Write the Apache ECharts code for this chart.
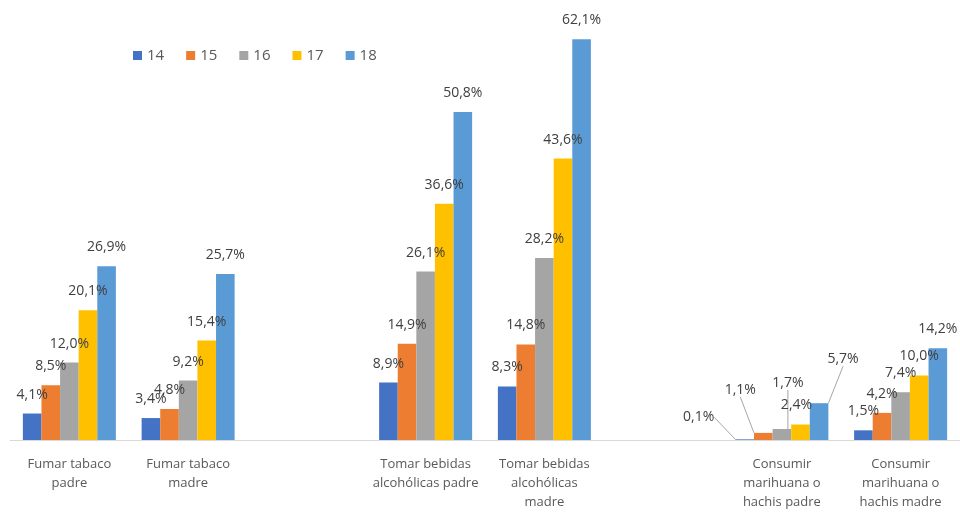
<!DOCTYPE html>
<html>
<head>
<meta charset="utf-8">
<script src="https://cdn.jsdelivr.net/npm/echarts@6/dist/echarts.min.js"></script>
<style>
  html, body { margin: 0; padding: 0; background: #fff; }
  #main { width: 960px; height: 512px; }
</style>
</head>
<body>
<div id="main"></div>
<script>
// categorias (las vacias dejan el hueco entre grupos)
var categories = [
  'Fumar tabaco\npadre',
  'Fumar tabaco\nmadre',
  '',
  'Tomar bebidas\nalcohólicas padre',
  'Tomar bebidas\nalcohólicas\nmadre',
  '',
  'Consumir\nmarihuana o\nhachis padre',
  'Consumir\nmarihuana o\nhachis madre'
];
var ages = ['14', '15', '16', '17', '18'];

var edad14 = [4.1, 3.4, null, 8.9, 8.3, null, 0.1, 1.5];
var edad15 = [8.5, 4.8, null, 14.9, 14.8, null, 1.1, 4.2];
var edad16 = [12.0, 9.2, null, 26.1, 28.2, null, 1.7, 7.4];
var edad17 = [20.1, 15.4, null, 36.6, 43.6, null, 2.4, 10.0];
var edad18 = [26.9, 25.7, null, 50.8, 62.1, null, 5.7, 14.2];

var seriesData = [edad14, edad15, edad16, edad17, edad18];
var colors = ['#4472C4', '#ED7D31', '#A5A5A5', '#FFC000', '#5B9BD5'];

// etiquetas desplazadas (con linea guia) en marihuana padre
var labelShifts = {
  '0-6': { dx: -46, dy: -3, line: true },
  '1-6': { dx: -23, dy: -24, line: true },
  '2-6': { dx: 6, dy: -27, line: true },
  '3-6': { dx: -4, dy: 0, line: false },
  '4-6': { dx: 24, dy: -25, line: true }
};

function fmt(p) {
  return p.value.toFixed(1).replace('.', ',') + '%';
}

var chart = echarts.init(document.getElementById('main'));

var series = seriesData.map(function (d, i) {
  var items = d.map(function (v, j) {
    var s = labelShifts[i + '-' + j];
    if (s && s.line) {
      return { value: v, labelLine: { show: true } };
    }
    return v;
  });
  return {
    name: ages[i],
    type: 'bar',
    data: items,
    barWidth: 18.6,
    barGap: '0%',
    itemStyle: { color: colors[i] },
    label: {
      show: true,
      position: 'top',
      distance: 12,
      formatter: fmt,
      color: '#404040',
      fontSize: 14,
      fontFamily: 'Open Sans'
    },
    labelLine: {
      show: false,
      lineStyle: { color: '#A6A6A6', width: 1 }
    },
    labelLayout: function (params) {
      var s = labelShifts[params.seriesIndex + '-' + params.dataIndex];
      return s ? { dx: s.dx, dy: s.dy } : {};
    }
  };
});

chart.setOption({
  animation: false,
  legend: {
    left: 128,
    top: 43,
    itemWidth: 9,
    itemHeight: 9,
    itemGap: 22,
    icon: 'rect',
    textStyle: { color: '#595959', fontSize: 15, fontFamily: 'Open Sans' },
    data: ages
  },
  grid: { left: 10, right: 0, top: 14, bottom: 70 },
  xAxis: {
    type: 'category',
    data: categories,
    axisTick: { show: false },
    axisLine: { lineStyle: { color: '#D9D9D9' } },
    axisLabel: {
      interval: 0,
      margin: 15,
      color: '#595959',
      fontSize: 13,
      lineHeight: 19,
      fontFamily: 'Open Sans'
    }
  },
  yAxis: {
    type: 'value',
    min: 0,
    max: 66,
    show: false,
    splitLine: { show: false }
  },
  series: series
});
</script>
</body>
</html>
